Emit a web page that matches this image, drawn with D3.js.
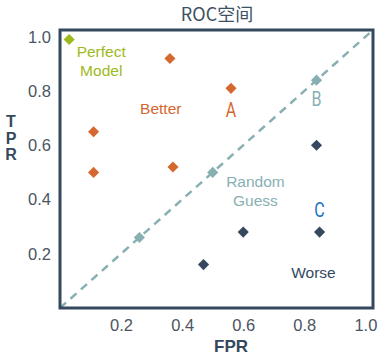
<!DOCTYPE html>
<html><head><meta charset="utf-8">
<script src="https://cdn.jsdelivr.net/npm/d3@7"></script>
<style>body{margin:0;background:#fff}</style>
</head><body><svg id="c" width="383" height="356"></svg>
<script>
const ticks = [0.2, 0.4, 0.6, 0.8, 1.0];
const perfect = [[0.03, 0.99]];
const better = [[0.36, 0.92], [0.56, 0.81], [0.11, 0.65], [0.11, 0.50], [0.37, 0.52]];
const random = [[0.26, 0.26], [0.50, 0.50], [0.84, 0.84]];
const worse = [[0.84, 0.60], [0.60, 0.28], [0.85, 0.28], [0.47, 0.16]];
const diagonal = [[0, 0], [1.025, 1.025]];
const labels = [
  {lines: ["Perfect", "Model"], x: 0.135, y: 0.925, color: "#9cba1a"},
  {lines: ["Better"], x: 0.33, y: 0.715, color: "#d4682e"},
  {lines: ["Random", "Guess"], x: 0.64, y: 0.445, color: "#88b0b2"},
  {lines: ["Worse"], x: 0.83, y: 0.11, color: "#34495e"}
];
const letters = [
  {t: "A", x: 0.56, y: 0.705, color: "#d4682e"},
  {t: "B", x: 0.84, y: 0.745, color: "#88b0b2"},
  {t: "C", x: 0.85, y: 0.335, color: "#1a72c6"}
];

const svg = d3.select("#c");
const L = 60, R = 373, T = 30, B = 308;
const x = d3.scaleLinear().domain([0, 1.025]).range([L, R]);
const y = d3.scaleLinear().domain([0, 1.025]).range([B, T]);

svg.append("text").attr("x", 217).attr("y", 21).attr("text-anchor", "middle")
  .attr("font-family", "Noto Sans CJK SC, sans-serif").attr("font-size", 18)
  .attr("fill", "#3e5163").text("ROC空间");

// axes
const xa = svg.append("g").attr("transform", `translate(0,${B})`)
  .call(d3.axisBottom(x).tickValues(ticks).tickFormat(d3.format(".1f")).tickSize(0).tickPadding(11));
const ya = svg.append("g").attr("transform", `translate(${L},0)`)
  .call(d3.axisLeft(y).tickValues(ticks).tickFormat(d3.format(".1f")).tickSize(0).tickPadding(9));
[xa, ya].forEach(a => {
  a.select(".domain").remove();
  a.selectAll("text").attr("font-family", "Liberation Sans, Arial, sans-serif")
    .attr("font-size", 16.5).attr("fill", "#4a5561");
});

// diagonal
svg.append("path").datum(diagonal)
  .attr("d", d3.line().x(d => x(d[0])).y(d => y(d[1])))
  .attr("stroke", "#88b0b2").attr("stroke-width", 2.5).attr("fill", "none")
  .attr("stroke-dasharray", "8,6");

svg.append("rect").attr("x", L).attr("y", T).attr("width", R - L).attr("height", B - T)
  .attr("fill", "none").attr("stroke", "#34495e").attr("stroke-width", 3);

const sym = d3.symbol().type(d3.symbolSquare).size(62);
function pts(data, color) {
  svg.append("g").selectAll("path").data(data).join("path")
    .attr("d", sym)
    .attr("transform", d => `translate(${x(d[0])},${y(d[1])}) rotate(45)`)
    .attr("fill", color);
}
pts(better, "#d4682e");
pts(random, "#88b0b2");
pts(worse, "#34495e");
pts(perfect, "#9cba1a");

labels.forEach(l => {
  const t = svg.append("text").attr("text-anchor", "middle")
    .attr("font-family", "Liberation Sans, Arial, sans-serif").attr("font-size", 15.5)
    .attr("fill", l.color);
  l.lines.forEach((s, i) => t.append("tspan").attr("x", x(l.x)).attr("y", y(l.y) + i * 19).text(s));
});

letters.forEach(l => {
  svg.append("text").attr("text-anchor", "middle")
    .attr("transform", `translate(${x(l.x)},${y(l.y)}) scale(0.8,1)`)
    .attr("font-family", "Roboto, sans-serif").attr("font-size", 20)
    .attr("fill", l.color).text(l.t);
});

svg.append("text").attr("x", 231).attr("y", 352).attr("text-anchor", "middle")
  .attr("font-family", "Liberation Sans, Arial, sans-serif").attr("font-size", 17)
  .attr("font-weight", "bold").attr("fill", "#34495e").text("FPR");
const tpr = svg.append("text").attr("text-anchor", "middle")
  .attr("font-family", "Liberation Sans, Arial, sans-serif").attr("font-size", 16)
  .attr("font-weight", "bold").attr("fill", "#34495e");
["T", "P", "R"].forEach((s, i) => tpr.append("tspan").attr("x", 11).attr("y", 127 + i * 16.5).text(s));
</script></body></html>
